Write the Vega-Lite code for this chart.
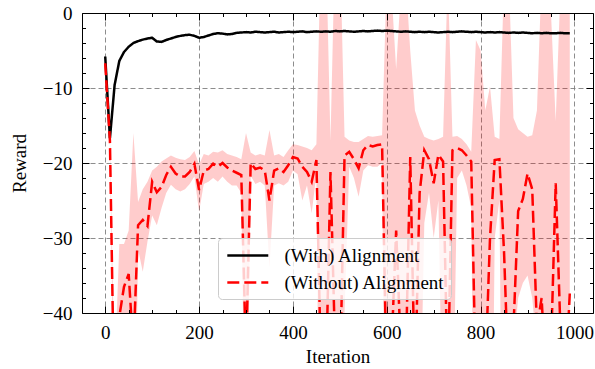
{
  "$schema": "https://vega.github.io/schema/vega-lite/v6.json",
  "width": 511,
  "height": 300,
  "autosize": {"type": "none"},
  "padding": {"left": 82, "top": 13, "right": 2, "bottom": 56},
  "config": {
    "view": {"stroke": null},
    "font": "Liberation Serif",
    "axis": {
      "tickColor": "#000000",
      "tickWidth": 1,
      "domainColor": "#000000",
      "domainWidth": 1,
      "labelFont": "Liberation Serif",
      "labelFontSize": 19,
      "labelColor": "#000000",
      "labelFlush": false,
      "titleFont": "Liberation Serif",
      "titleFontSize": 19,
      "titleFontWeight": "normal",
      "titleColor": "#000000",
      "gridColor": "#808080",
      "gridDash": [5, 3],
      "gridWidth": 0.9
    },
    "legend": {
      "labelFont": "Liberation Serif",
      "labelFontSize": 19,
      "labelColor": "#000000",
      "labelLimit": 0
    }
  },
  "data": {
    "values": [
      {"iter": 0, "with": -5.8, "wo": -6.7, "lo": -7.0, "hi": -6.4},
      {"iter": 10, "with": -16.7, "wo": -17.0, "lo": -17.6, "hi": -16.4},
      {"iter": 20, "with": -9.6, "wo": -55, "lo": -62, "hi": -48},
      {"iter": 30, "with": -6.4, "wo": -40.5, "lo": -50, "hi": -30.8},
      {"iter": 40, "with": -5.2, "wo": -36.5, "lo": -43, "hi": -30.8},
      {"iter": 50, "with": -4.5, "wo": -34.8, "lo": -41, "hi": -29},
      {"iter": 60, "with": -4.0, "wo": -45, "lo": -75, "hi": -16},
      {"iter": 70, "with": -3.75, "wo": -28.3, "lo": -31.5, "hi": -25.2},
      {"iter": 80, "with": -3.55, "wo": -27.6, "lo": -34.5, "hi": -23.5},
      {"iter": 90, "with": -3.4, "wo": -28.4, "lo": -30.5, "hi": -22.5},
      {"iter": 100, "with": -3.3, "wo": -22.5, "lo": -27, "hi": -21},
      {"iter": 110, "with": -3.8, "wo": -23.9, "lo": -28.3, "hi": -20.5},
      {"iter": 120, "with": -3.85, "wo": -23.2, "lo": -26, "hi": -19.8},
      {"iter": 130, "with": -3.6, "wo": -21.6, "lo": -24, "hi": -19.4},
      {"iter": 140, "with": -3.4, "wo": -20.5, "lo": -22.9, "hi": -19.0},
      {"iter": 150, "with": -3.2, "wo": -21.4, "lo": -23.5, "hi": -19.3},
      {"iter": 160, "with": -3.05, "wo": -21.8, "lo": -23.8, "hi": -19.5},
      {"iter": 170, "with": -2.95, "wo": -21.8, "lo": -23.5, "hi": -19.6},
      {"iter": 180, "with": -2.9, "wo": -21.2, "lo": -22.8, "hi": -19.2},
      {"iter": 190, "with": -3.05, "wo": -20.1, "lo": -21.8, "hi": -18.4},
      {"iter": 200, "with": -3.3, "wo": -23.6, "lo": -26.5, "hi": -20.2},
      {"iter": 210, "with": -3.2, "wo": -21.0, "lo": -22.8, "hi": -18.8},
      {"iter": 220, "with": -3.0, "wo": -20.8, "lo": -22.5, "hi": -19.0},
      {"iter": 230, "with": -2.8, "wo": -20.1, "lo": -22.0, "hi": -18.5},
      {"iter": 240, "with": -2.7, "wo": -20.5, "lo": -22.5, "hi": -18.6},
      {"iter": 250, "with": -2.75, "wo": -20.0, "lo": -21.8, "hi": -18.3},
      {"iter": 260, "with": -2.85, "wo": -20.6, "lo": -22.5, "hi": -18.8},
      {"iter": 270, "with": -2.8, "wo": -21.0, "lo": -23.0, "hi": -19.0},
      {"iter": 280, "with": -2.65, "wo": -21.3, "lo": -23.0, "hi": -19.2},
      {"iter": 290, "with": -2.6, "wo": -21.6, "lo": -24.0, "hi": -19.5},
      {"iter": 300, "with": -2.55, "wo": -46, "lo": -70, "hi": -16},
      {"iter": 310, "with": -2.6, "wo": -20.0, "lo": -21.7, "hi": -18.6},
      {"iter": 320, "with": -2.5, "wo": -20.8, "lo": -22.8, "hi": -19.0},
      {"iter": 330, "with": -2.55, "wo": -20.6, "lo": -22.5, "hi": -18.8},
      {"iter": 340, "with": -2.6, "wo": -21.0, "lo": -23.0, "hi": -19.0},
      {"iter": 350, "with": -2.55, "wo": -25.0, "lo": -34.0, "hi": -15.6},
      {"iter": 360, "with": -2.5, "wo": -21.0, "lo": -23.0, "hi": -19.0},
      {"iter": 370, "with": -2.6, "wo": -20.7, "lo": -22.7, "hi": -18.8},
      {"iter": 380, "with": -2.55, "wo": -21.2, "lo": -23.0, "hi": -19.2},
      {"iter": 390, "with": -2.5, "wo": -20.3, "lo": -22.5, "hi": -18.3},
      {"iter": 400, "with": -2.55, "wo": -19.2, "lo": -21.0, "hi": -17.5},
      {"iter": 410, "with": -2.5, "wo": -19.4, "lo": -21.5, "hi": -17.6},
      {"iter": 420, "with": -2.45, "wo": -20.5, "lo": -25.0, "hi": -17.8},
      {"iter": 430, "with": -2.55, "wo": -21.2, "lo": -23.0, "hi": -18.0},
      {"iter": 440, "with": -2.5, "wo": -22.5, "lo": -26.7, "hi": -18.3},
      {"iter": 450, "with": -2.45, "wo": -19.6, "lo": -21.5, "hi": -17.5},
      {"iter": 460, "with": -2.5, "wo": -48, "lo": -90, "hi": 10},
      {"iter": 470, "with": -2.45, "wo": -50, "lo": -90, "hi": 10},
      {"iter": 480, "with": -2.5, "wo": -21.2, "lo": -60, "hi": -17},
      {"iter": 490, "with": -2.4, "wo": -45, "lo": -90, "hi": 10},
      {"iter": 500, "with": -2.45, "wo": -50, "lo": -90, "hi": 10},
      {"iter": 510, "with": -2.4, "wo": -19, "lo": -40, "hi": -16.5},
      {"iter": 520, "with": -2.45, "wo": -18.5, "lo": -20.5, "hi": -17.0},
      {"iter": 530, "with": -2.5, "wo": -19.5, "lo": -22.0, "hi": -17.2},
      {"iter": 540, "with": -2.45, "wo": -20.7, "lo": -24.5, "hi": -17.2},
      {"iter": 550, "with": -2.4, "wo": -18.3, "lo": -21.0, "hi": -16.8},
      {"iter": 560, "with": -2.45, "wo": -17.6, "lo": -20.3, "hi": -16.4},
      {"iter": 570, "with": -2.4, "wo": -17.8, "lo": -20.5, "hi": -16.5},
      {"iter": 580, "with": -2.35, "wo": -17.6, "lo": -20.5, "hi": -16.4},
      {"iter": 590, "with": -2.4, "wo": -17.5, "lo": -20.0, "hi": -16.3},
      {"iter": 600, "with": -2.35, "wo": -50, "lo": -90, "hi": 5},
      {"iter": 610, "with": -2.4, "wo": -45, "lo": -90, "hi": 3},
      {"iter": 620, "with": -2.45, "wo": -29, "lo": -60, "hi": -7.5},
      {"iter": 630, "with": -2.5, "wo": -45, "lo": -90, "hi": 3},
      {"iter": 640, "with": -2.45, "wo": -48, "lo": -90, "hi": 5},
      {"iter": 650, "with": -2.5, "wo": -19.2, "lo": -60, "hi": -5},
      {"iter": 660, "with": -2.55, "wo": -50, "lo": -90, "hi": -13},
      {"iter": 670, "with": -2.5, "wo": -24, "lo": -60, "hi": -15},
      {"iter": 680, "with": -2.55, "wo": -18.3, "lo": -28, "hi": -16.5},
      {"iter": 690, "with": -2.5, "wo": -19.5, "lo": -24, "hi": -16.8},
      {"iter": 700, "with": -2.55, "wo": -22.7, "lo": -30, "hi": -17},
      {"iter": 710, "with": -2.6, "wo": -18.9, "lo": -25, "hi": -16.8},
      {"iter": 720, "with": -2.55, "wo": -19.8, "lo": -60, "hi": -16.5},
      {"iter": 730, "with": -2.5, "wo": -50, "lo": -90, "hi": 5},
      {"iter": 740, "with": -2.55, "wo": -18.3, "lo": -60, "hi": -16.5},
      {"iter": 750, "with": -2.5, "wo": -18.0, "lo": -22, "hi": -16.4},
      {"iter": 760, "with": -2.45, "wo": -18.3, "lo": -21, "hi": -16.8},
      {"iter": 770, "with": -2.5, "wo": -19.0, "lo": -23, "hi": -17.5},
      {"iter": 780, "with": -2.55, "wo": -19.8, "lo": -26, "hi": -18.5},
      {"iter": 790, "with": -2.5, "wo": -50, "lo": -90, "hi": -3.6},
      {"iter": 800, "with": -2.55, "wo": -55, "lo": -90, "hi": -5},
      {"iter": 810, "with": -2.6, "wo": -48, "lo": -90, "hi": -13},
      {"iter": 820, "with": -2.55, "wo": -30, "lo": -90, "hi": -9.8},
      {"iter": 830, "with": -2.6, "wo": -19.6, "lo": -30, "hi": -16.5},
      {"iter": 840, "with": -2.55, "wo": -19.5, "lo": -25, "hi": -16.8},
      {"iter": 850, "with": -2.6, "wo": -32, "lo": -90, "hi": 5},
      {"iter": 860, "with": -2.65, "wo": -50, "lo": -90, "hi": 5},
      {"iter": 870, "with": -2.6, "wo": -42, "lo": -45, "hi": -14},
      {"iter": 880, "with": -2.65, "wo": -26.4, "lo": -38, "hi": -15.5},
      {"iter": 890, "with": -2.6, "wo": -24.8, "lo": -36, "hi": -16},
      {"iter": 900, "with": -2.65, "wo": -21.4, "lo": -35, "hi": -16.5},
      {"iter": 910, "with": -2.7, "wo": -23.5, "lo": -38, "hi": -16.3},
      {"iter": 920, "with": -2.65, "wo": -42, "lo": -45, "hi": -13},
      {"iter": 930, "with": -2.7, "wo": -38, "lo": -90, "hi": 5},
      {"iter": 940, "with": -2.65, "wo": -50, "lo": -90, "hi": 5},
      {"iter": 950, "with": -2.7, "wo": -45, "lo": -60, "hi": 0},
      {"iter": 960, "with": -2.7, "wo": -22.7, "lo": -50, "hi": -14.4},
      {"iter": 970, "with": -2.65, "wo": -42, "lo": -60, "hi": 3},
      {"iter": 980, "with": -2.7, "wo": -50, "lo": -90, "hi": 5},
      {"iter": 990, "with": -2.7, "wo": -37.4, "lo": -60, "hi": 5}
    ]
  },
  "layer": [
    {
      "mark": {"type": "area", "color": "#ff0000", "fillOpacity": 0.2, "clip": true},
      "encoding": {
        "x": {
          "field": "iter", "type": "quantitative",
          "scale": {"domain": [-49.5, 1039.5], "nice": false, "zero": false},
          "axis": {
            "orient": "bottom", "values": [0, 200, 400, 600, 800, 1000], "format": "d",
            "labelFont": "Liberation Serif", "labelFontSize": 19,
            "tickSize": -7, "labelPadding": 17, "grid": true, "domain": false,
            "zindex": 0, "title": "Iteration",
            "titleBaseline": "alphabetic", "titleY": 49, "titleX": 255.5
          }
        },
        "y": {
          "field": "lo", "type": "quantitative",
          "scale": {"domain": [-40, 0], "nice": false, "zero": false},
          "axis": {
            "orient": "left", "values": [-40, -30, -20, -10, 0], "format": "d",
            "labelFont": "Liberation Serif", "labelFontSize": 19,
            "tickSize": -7, "labelPadding": 17, "grid": true, "domain": false,
            "zindex": 0, "title": "Reward",
            "titleAngle": -90, "titleBaseline": "alphabetic", "titleAlign": "center",
            "titleX": -57, "titleY": 150
          }
        },
        "y2": {"field": "hi"}
      }
    },
    {
      "mark": {"type": "area", "color": "#000000", "fillOpacity": 0.2, "clip": true},
      "encoding": {
        "x": {
          "field": "iter", "type": "quantitative",
          "axis": {
            "orient": "bottom",
            "values": [50, 100, 150, 250, 300, 350, 450, 500, 550, 650, 700, 750, 850, 900, 950],
            "tickSize": -3.5, "labels": false, "grid": false, "domain": true,
            "zindex": 1, "title": null
          }
        },
        "y": {
          "field": "with", "type": "quantitative",
          "axis": {
            "orient": "left",
            "values": [-38, -36, -34, -32, -28, -26, -24, -22, -18, -16, -14, -12, -8, -6, -4, -2],
            "tickSize": -3.5, "labels": false, "grid": false, "domain": true,
            "zindex": 1, "title": null
          }
        },
        "y2": {"field": "with"}
      }
    },
    {
      "mark": {"type": "line", "strokeWidth": 2.5, "clip": true},
      "encoding": {
        "x": {
          "field": "iter", "type": "quantitative",
          "axis": {
            "orient": "top", "values": [0, 200, 400, 600, 800, 1000],
            "tickSize": -7, "labels": false, "grid": false, "domain": true,
            "zindex": 1, "title": null
          }
        },
        "y": {
          "field": "with", "type": "quantitative",
          "axis": {
            "orient": "right", "values": [-40, -30, -20, -10, 0],
            "tickSize": -7, "labels": false, "grid": false, "domain": true,
            "zindex": 1, "title": null
          }
        },
        "color": {
          "datum": "(With) Alignment",
          "scale": {"domain": ["(With) Alignment", "(Without) Alignment"], "range": ["#000000", "#ff0000"]},
          "legend": {
            "title": null, "orient": "none", "legendX": 136, "legendY": 225,
            "symbolType": "M-0.8,0H3.2", "symbolSize": 420, "symbolStrokeWidth": 2.5,
            "labelOffset": 37.5, "rowPadding": 5, "padding": 6, "labelLimit": 0,
            "labelFont": "Liberation Serif", "labelFontSize": 19,
            "fillColor": "rgba(255,255,255,0.8)", "strokeColor": "#cccccc",
            "cornerRadius": 4, "labelBaseline": "middle"
          }
        },
        "strokeDash": {
          "datum": "(With) Alignment",
          "scale": {"domain": ["(With) Alignment", "(Without) Alignment"], "range": [[1, 0], [12, 5]]},
          "legend": {"title": null}
        }
      }
    },
    {
      "mark": {"type": "line", "strokeWidth": 2.5, "clip": true},
      "encoding": {
        "x": {
          "field": "iter", "type": "quantitative",
          "axis": {
            "orient": "top",
            "values": [50, 100, 150, 250, 300, 350, 450, 500, 550, 650, 700, 750, 850, 900, 950],
            "tickSize": -3.5, "labels": false, "grid": false, "domain": false,
            "zindex": 1, "title": null
          }
        },
        "y": {
          "field": "wo", "type": "quantitative",
          "axis": {
            "orient": "right",
            "values": [-38, -36, -34, -32, -28, -26, -24, -22, -18, -16, -14, -12, -8, -6, -4, -2],
            "tickSize": -3.5, "labels": false, "grid": false, "domain": false,
            "zindex": 1, "title": null
          }
        },
        "color": {"datum": "(Without) Alignment"},
        "strokeDash": {"datum": "(Without) Alignment"}
      }
    }
  ],
  "resolve": {
    "scale": {"x": "shared", "y": "shared"},
    "axis": {"x": "independent", "y": "independent"}
  }
}
